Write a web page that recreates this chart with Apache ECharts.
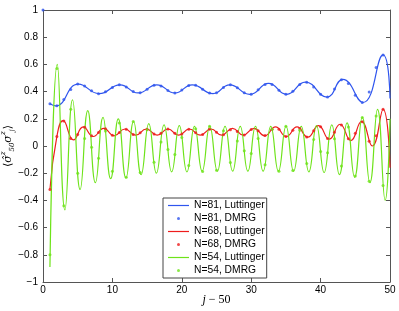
<!DOCTYPE html>
<html>
<head>
<meta charset="utf-8">
<script src="https://cdn.jsdelivr.net/npm/echarts@6/dist/echarts.min.js"></script>
<style>html,body{margin:0;padding:0;background:#fff}#c{width:399px;height:311px}</style>
</head>
<body>
<div id="c"></div>
<script>
// x ticks
const xTicks = [0, 10, 20, 30, 40, 50];
const yTicks = [-1, -0.8, -0.6, -0.4, -0.2, 0, 0.2, 0.4, 0.6, 0.8, 1];

// DMRG sample positions (j-50)
const jPts = [0,1,2,3,4,5,6,7,8,9,10,11,12,13,14,15,16,17,18,19,20,21,22,23,24,25,26,27,28,29,30,31,32,33,34,35,36,37,38,39,40,41,42,43,44,45,46,47,48,49];

// N=81
const blueDmrg = [1,0.31,0.296,0.342,0.415,0.455,0.441,0.406,0.385,0.398,0.431,0.45,0.434,0.40,0.392,0.418,0.447,0.442,0.409,0.39,0.411,0.444,0.446,0.418,0.389,0.392,0.43,0.45,0.428,0.392,0.381,0.413,0.453,0.453,0.41,0.38,0.403,0.452,0.469,0.434,0.381,0.361,0.42,0.487,0.46,0.373,0.32,0.397,0.577,0.67];
const blueLineJ = [1,1.8,5.1,8.1,11.1,13.7,16.4,19.0,21.5,24.5,26.9,29.8,32.5,35.1,37.8,40.9,43.2,46.1,49.0,50];
const blueLineV = [0.31,0.295,0.455,0.385,0.45,0.39,0.45,0.39,0.45,0.385,0.45,0.38,0.46,0.38,0.47,0.36,0.49,0.32,0.67,0.35];

// N=68
const redDmrg = [null,-0.32,0.07,0.184,0.056,0.085,0.137,0.075,0.099,0.126,0.079,0.1,0.123,0.085,0.097,0.124,0.089,0.093,0.125,0.093,0.089,0.124,0.097,0.085,0.123,0.101,0.083,0.12,0.106,0.081,0.122,0.113,0.077,0.124,0.124,0.07,0.115,0.128,0.067,0.112,0.141,0.056,0.102,0.155,0.054,0.093,0.178,0.035,0.076,0.27];
const redLineJ = [1,2,2.9,4.4,5.8,7.25,8.75,10.25,11.8,13.35,14.9,16.45,18.0,19.55,21.1,22.65,24.2,25.75,27.3,28.85,30.4,31.95,33.5,35.05,36.6,38.15,39.7,41.25,42.8,44.35,45.9,47.45,49.0,50];
const redLineV = [-0.32,0.07,0.186,0.045,0.14,0.07,0.13,0.075,0.125,0.08,0.125,0.08,0.125,0.08,0.125,0.08,0.125,0.08,0.13,0.08,0.13,0.075,0.14,0.07,0.14,0.065,0.15,0.05,0.16,0.04,0.18,0.0,0.27,-0.16];

// N=54
const greenDmrg = [null,-0.80,0.57,-0.44,0.27,-0.20,0.055,-0.01,-0.09,0.11,-0.185,0.17,-0.23,0.18,-0.195,0.12,-0.12,0.03,-0.026,-0.063,0.063,-0.143,0.127,-0.187,0.145,-0.179,0.112,-0.122,0.037,-0.035,-0.056,0.056,-0.138,0.124,-0.185,0.146,-0.181,0.116,-0.128,0.047,-0.041,-0.05,0.054,-0.147,0.14,-0.22,0.21,-0.26,0.22,-0.29];
const greenLineJ = [1,2.06,3.16,4.26,5.35,6.45,7.55,8.65,9.75,10.85,11.95,13.05,14.14,15.24,16.34,17.44,18.54,19.64,20.74,21.83,22.93,24.03,25.13,26.23,27.33,28.42,29.52,30.62,31.72,32.82,33.92,35.02,36.11,37.21,38.31,39.41,40.51,41.61,42.71,43.81,44.90,46.00,47.10,48.20,49.30,50];
const greenLineV = [-0.89,0.60,-0.47,0.34,-0.32,0.26,-0.27,0.21,-0.24,0.20,-0.235,0.18,-0.21,0.165,-0.20,0.155,-0.19,0.15,-0.19,0.145,-0.185,0.145,-0.185,0.145,-0.185,0.145,-0.185,0.145,-0.185,0.145,-0.185,0.145,-0.185,0.145,-0.19,0.15,-0.195,0.155,-0.21,0.17,-0.23,0.21,-0.27,0.27,-0.40,0.2];

const names = ['N=81, Luttinger','N=81, DMRG','N=68, Luttinger','N=68, DMRG','N=54, Luttinger','N=54, DMRG'];
const colors = ['#2f55ee','#ee1c1c','#6ee31a'];

function pairs(xs, ys) { return xs.map((x, i) => [x, ys[i]]); }

const axisColor = '#555';
function xAx(pos, showLabel) {
  return {
    type: 'value', min: 0, max: 50, interval: 10, position: pos,
    axisLine: { show: true, onZero: false, lineStyle: { color: axisColor, width: 1 } },
    axisTick: { show: true, inside: true, length: 4, lineStyle: { color: axisColor } },
    axisLabel: { show: showLabel, fontSize: 10, color: '#000', margin: 3, fontFamily: 'Liberation Sans, Arial, sans-serif' },
    splitLine: { show: false }
  };
}
function yAx(pos, showLabel) {
  return {
    type: 'value', min: -1, max: 1, interval: 0.2, position: pos,
    axisLine: { show: true, onZero: false, lineStyle: { color: axisColor, width: 1 } },
    axisTick: { show: true, inside: true, length: 4, lineStyle: { color: axisColor } },
    axisLabel: {
      show: showLabel, fontSize: 10, color: '#000', margin: 5, fontFamily: 'Liberation Sans, Arial, sans-serif',
      formatter: v => { const r = Math.round(v * 10) / 10; return r < 0 ? '\u2212' + Math.abs(r) : String(r); }
    },
    splitLine: { show: false }
  };
}

const xa0 = xAx('bottom', true);
xa0.name = '{i|j} \u2212 50';
xa0.nameLocation = 'middle';
xa0.nameGap = 12;
xa0.nameMoveOverlap = false;
xa0.nameTextStyle = { fontSize: 12, color: '#000', fontFamily: 'Liberation Serif, serif',
  rich: { i: { fontSize: 12, fontStyle: 'italic', fontFamily: 'Liberation Serif, serif' } } };

const ya0 = yAx('left', true);
ya0.name = '{b|\u27e8}{s|\u03c3\u0302}{sup|z}{sub|50}{s|\u03c3}{sup|z}{sub|j}{b|\u27e9}';
ya0.nameLocation = 'middle';
ya0.nameGap = 27;
ya0.nameRotate = 90;
ya0.nameMoveOverlap = false;
ya0.nameTextStyle = { color: '#000', fontSize: 11,
  rich: {
    b: { fontSize: 11, fontFamily: 'DejaVu Serif, serif', lineHeight: 16, verticalAlign: 'middle' },
    s: { fontSize: 11, fontStyle: 'italic', fontFamily: 'DejaVu Serif, serif', lineHeight: 16, verticalAlign: 'middle' },
    sup: { fontSize: 7, fontStyle: 'italic', fontFamily: 'DejaVu Serif, serif', verticalAlign: 'top', lineHeight: 16 },
    sub: { fontSize: 7, fontStyle: 'italic', fontFamily: 'DejaVu Serif, serif', verticalAlign: 'bottom', lineHeight: 16 }
  } };

const lineSeries = (name, xs, ys, color) => ({
  name, type: 'line', data: pairs(xs, ys), smooth: 0.5, symbol: 'none',
  lineStyle: { color, width: 1.2 }, itemStyle: { color }, z: 2, animation: false
});
const ptSeries = (name, ys, color) => ({
  name, type: 'scatter', data: pairs(jPts, ys).filter(p => p[1] !== null), symbol: 'circle', symbolSize: 3,
  itemStyle: { color }, z: 3, animation: false
});

const option = {
  backgroundColor: '#fff',
  animation: false,
  grid: { left: 43, right: 9, top: 10, bottom: 29, containLabel: false, outerBoundsMode: 'none' },
  xAxis: [xa0, xAx('top', false)],
  yAxis: [ya0, yAx('right', false)],
  legend: {
    orient: 'vertical', left: 163, top: 198,
    backgroundColor: '#fff', borderColor: '#444', borderWidth: 1,
    padding: [1, 2, 1, 5], itemGap: 0, itemWidth: 21, itemHeight: 3,
    textStyle: { fontSize: 10.3, lineHeight: 13, color: '#000', fontFamily: 'Liberation Sans, Arial, sans-serif' },
    data: names.map((n, i) => i % 2 === 0
      ? { name: n, icon: 'path://M0,0H21V1.2H0Z',
          itemStyle: { color: colors[i / 2], borderColor: colors[i / 2], borderWidth: 0 } }
      : { name: n })
  },
  series: [
    lineSeries(names[0], blueLineJ, blueLineV, colors[0]),
    ptSeries(names[1], blueDmrg, colors[0]),
    lineSeries(names[2], redLineJ, redLineV, colors[1]),
    ptSeries(names[3], redDmrg, colors[1]),
    lineSeries(names[4], greenLineJ, greenLineV, colors[2]),
    ptSeries(names[5], greenDmrg, colors[2])
  ]
};
const chart = echarts.init(document.getElementById('c'), null, { renderer: 'canvas' });
chart.setOption(option);
</script>
</body>
</html>
